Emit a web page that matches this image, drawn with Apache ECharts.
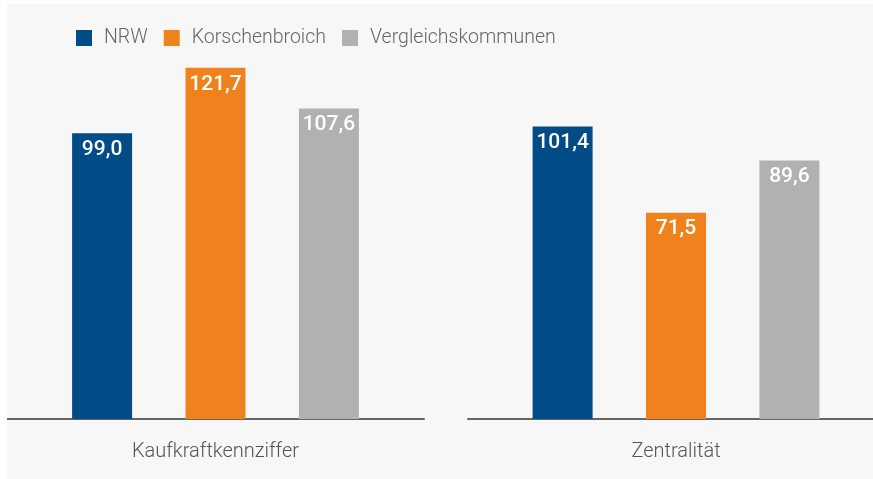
<!DOCTYPE html>
<html>
<head>
<meta charset="utf-8">
<script src="https://cdn.jsdelivr.net/npm/echarts@6/dist/echarts.min.js"></script>
<style>
    html, body { margin: 0; padding: 0; background: #ffffff; overflow: hidden; }
    #chart { position: absolute; left: 7px; top: 4px; width: 877px; height: 475px; }
</style>
</head>
<body>
<div id="chart"></div>
<script>
var categories = ['Kaufkraftkennziffer', 'Zentralität'];
var seriesNames = ['NRW', 'Korschenbroich', 'Vergleichskommunen'];
var nrw = [99.0, 101.4];
var korschenbroich = [121.7, 71.5];
var vergleich = [107.6, 89.6];
var colors = ['#014b87', '#f0821e', '#b1b1b1'];

function draw() {
    var myChart = echarts.init(document.getElementById('chart'));
    var values = [nrw, korschenbroich, vergleich];
    var font = 'Roboto';

    var series = [];
    for (var g = 0; g < categories.length; g++) {
        for (var s = 0; s < seriesNames.length; s++) {
            series.push({
                name: seriesNames[s],
                type: 'bar',
                xAxisIndex: g,
                yAxisIndex: g,
                barWidth: 60,
                barGap: '89%',
                itemStyle: { color: colors[s] },
                label: {
                    show: true,
                    position: 'insideTop',
                    distance: 6,
                    color: '#ffffff',
                    fontFamily: font,
                    fontSize: 21,
                    fontWeight: 500,
                    formatter: function (p) {
                        return p.value.toFixed(1).replace('.', ',');
                    }
                },
                data: [values[s][g]]
            });
        }
    }

    var option = {
        backgroundColor: '#f7f7f7',
        animation: false,
        legend: {
            data: seriesNames,
            left: 64,
            top: 19,
            icon: 'rect',
            itemWidth: 16,
            itemHeight: 16,
            itemGap: 16,
            textStyle: {
                color: '#666666',
                fontFamily: font,
                fontSize: 19.5,
                fontWeight: 300,
                padding: [0, 0, 0, 7]
            }
        },
        grid: [
            { left: 0, width: 417, top: 11, bottom: 60 },
            { left: 461, width: 416, top: 11, bottom: 60 }
        ],
        xAxis: [0, 1].map(function (i) {
            return {
                type: 'category',
                gridIndex: i,
                data: [categories[i]],
                axisLine: { lineStyle: { color: '#666666', width: 2 } },
                axisTick: { show: false },
                axisLabel: {
                    color: '#555555',
                    fontFamily: font,
                    fontSize: 20,
                    fontWeight: 300,
                    margin: 23
                }
            };
        }),
        yAxis: [0, 1].map(function (i) {
            return {
                type: 'value',
                gridIndex: i,
                min: 0,
                max: 140,
                show: false,
                splitLine: { show: false }
            };
        }),
        series: series
    };

    myChart.setOption(option);
}

draw();
</script>
</body>
</html>
